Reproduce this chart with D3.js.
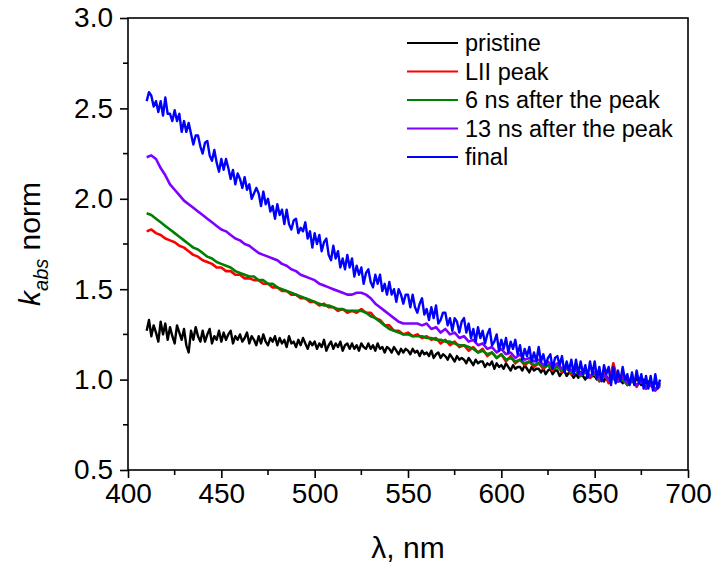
<!DOCTYPE html>
<html>
<head>
<meta charset="utf-8">
<script src="https://cdn.jsdelivr.net/npm/d3@7"></script>
<style>
  body { margin: 0; background: #fff; }
  text { font-family: "Liberation Sans", Arial, sans-serif; }
</style>
</head>
<body>
<script>
// coarse wavelength grid (nm) for the smoother curves
const wavelength = [
  410, 412.5, 415, 417.5, 420, 422.5, 425, 427.5, 430, 432.5,
  435, 437.5, 440, 442.5, 445, 447.5, 450, 452.5, 455, 457.5,
  460, 462.5, 465, 467.5, 470, 472.5, 475, 477.5, 480, 482.5,
  485, 487.5, 490, 492.5, 495, 497.5, 500, 502.5, 505, 507.5,
  510, 512.5, 515, 517.5, 520, 522.5, 525, 527.5, 530, 532.5,
  535, 537.5, 540, 542.5, 545, 547.5, 550, 552.5, 555, 557.5,
  560, 562.5, 565, 567.5, 570, 572.5, 575, 577.5, 580, 582.5,
  585, 587.5, 590, 592.5, 595, 597.5, 600, 602.5, 605, 607.5,
  610, 612.5, 615, 617.5, 620, 622.5, 625, 627.5, 630, 632.5,
  635, 637.5, 640, 642.5, 645, 647.5, 650, 652.5, 655, 657.5,
  660, 662.5, 665, 667.5, 670, 672.5, 675, 677.5, 680, 682.5,
  685
];

// fine wavelength grid (nm) for the noisy curves, 8 points per 10 nm
const wavelengthFine = [
  410, 411.25, 412.5, 413.75, 415, 416.25, 417.5, 418.75,
  420, 421.25, 422.5, 423.75, 425, 426.25, 427.5, 428.75,
  430, 431.25, 432.5, 433.75, 435, 436.25, 437.5, 438.75,
  440, 441.25, 442.5, 443.75, 445, 446.25, 447.5, 448.75,
  450, 451.25, 452.5, 453.75, 455, 456.25, 457.5, 458.75,
  460, 461.25, 462.5, 463.75, 465, 466.25, 467.5, 468.75,
  470, 471.25, 472.5, 473.75, 475, 476.25, 477.5, 478.75,
  480, 481.25, 482.5, 483.75, 485, 486.25, 487.5, 488.75,
  490, 491.25, 492.5, 493.75, 495, 496.25, 497.5, 498.75,
  500, 501.25, 502.5, 503.75, 505, 506.25, 507.5, 508.75,
  510, 511.25, 512.5, 513.75, 515, 516.25, 517.5, 518.75,
  520, 521.25, 522.5, 523.75, 525, 526.25, 527.5, 528.75,
  530, 531.25, 532.5, 533.75, 535, 536.25, 537.5, 538.75,
  540, 541.25, 542.5, 543.75, 545, 546.25, 547.5, 548.75,
  550, 551.25, 552.5, 553.75, 555, 556.25, 557.5, 558.75,
  560, 561.25, 562.5, 563.75, 565, 566.25, 567.5, 568.75,
  570, 571.25, 572.5, 573.75, 575, 576.25, 577.5, 578.75,
  580, 581.25, 582.5, 583.75, 585, 586.25, 587.5, 588.75,
  590, 591.25, 592.5, 593.75, 595, 596.25, 597.5, 598.75,
  600, 601.25, 602.5, 603.75, 605, 606.25, 607.5, 608.75,
  610, 611.25, 612.5, 613.75, 615, 616.25, 617.5, 618.75,
  620, 621.25, 622.5, 623.75, 625, 626.25, 627.5, 628.75,
  630, 631.25, 632.5, 633.75, 635, 636.25, 637.5, 638.75,
  640, 641.25, 642.5, 643.75, 645, 646.25, 647.5, 648.75,
  650, 651.25, 652.5, 653.75, 655, 656.25, 657.5, 658.75,
  660, 661.25, 662.5, 663.75, 665, 666.25, 667.5, 668.75,
  670, 671.25, 672.5, 673.75, 675, 676.25, 677.5, 678.75,
  680, 681.25, 682.5, 683.75, 685
];

// pristine, on the fine grid
const pristine = [
  1.27, 1.33, 1.24, 1.30, 1.26, 1.21, 1.32, 1.25,
  1.31, 1.22, 1.29, 1.24, 1.20, 1.30, 1.26, 1.22,
  1.28, 1.19, 1.15, 1.27, 1.22, 1.29, 1.24, 1.21,
  1.27, 1.21, 1.25, 1.28, 1.20, 1.24, 1.22, 1.27,
  1.21, 1.26, 1.22, 1.25, 1.27, 1.20, 1.24, 1.22,
  1.25, 1.21, 1.23, 1.26, 1.20, 1.24, 1.22, 1.19,
  1.24, 1.20, 1.25, 1.21, 1.19, 1.23, 1.21, 1.24,
  1.19, 1.23, 1.20, 1.22, 1.18, 1.24, 1.20, 1.21,
  1.18, 1.22, 1.19, 1.23, 1.20, 1.17, 1.21, 1.19,
  1.21, 1.17, 1.20, 1.18, 1.22, 1.16, 1.19, 1.21,
  1.17, 1.20, 1.18, 1.21, 1.16, 1.19, 1.20, 1.17,
  1.20, 1.17, 1.19, 1.16, 1.20, 1.18, 1.17, 1.20,
  1.17, 1.19, 1.16, 1.20, 1.17, 1.18, 1.15, 1.18,
  1.17, 1.15, 1.18, 1.16, 1.14, 1.17, 1.15, 1.17,
  1.16, 1.14, 1.17, 1.15, 1.16, 1.13, 1.16, 1.14,
  1.15, 1.13, 1.16, 1.12, 1.14, 1.15, 1.12, 1.14,
  1.13, 1.11, 1.14, 1.12, 1.10, 1.13, 1.11, 1.12,
  1.11, 1.09, 1.12, 1.10, 1.08, 1.11, 1.09, 1.10,
  1.10, 1.07, 1.09, 1.08, 1.10, 1.06, 1.09, 1.07,
  1.08, 1.06, 1.09, 1.07, 1.05, 1.08, 1.06, 1.07,
  1.07, 1.05, 1.08, 1.06, 1.04, 1.07, 1.05, 1.06,
  1.06, 1.04, 1.06, 1.03, 1.05, 1.06, 1.03, 1.05,
  1.05, 1.02, 1.04, 1.05, 1.02, 1.04, 1.03, 1.01,
  1.03, 1.01, 1.04, 1.02, 1.00, 1.03, 1.01, 1.02,
  1.02, 1.00, 1.03, 1.01, 0.99, 1.02, 1.00, 1.01,
  1.01, 0.99, 1.02, 1.00, 0.98, 1.01, 0.99, 1.00,
  1.00, 0.98, 1.01, 0.99, 0.97, 1.00, 0.98, 0.99,
  0.99, 0.97, 0.99, 0.96, 0.98
];

// LII peak, coarse grid
const liiPeak = [
  1.82, 1.83, 1.81, 1.80, 1.78, 1.77, 1.76, 1.74, 1.73, 1.71,
  1.69, 1.68, 1.66, 1.65, 1.64, 1.62, 1.62, 1.60, 1.60, 1.58,
  1.58, 1.56, 1.56, 1.55, 1.55, 1.53, 1.53, 1.51, 1.51, 1.49,
  1.49, 1.47, 1.47, 1.45, 1.45, 1.43, 1.43, 1.41, 1.42, 1.40,
  1.40, 1.38, 1.39, 1.37, 1.38, 1.37, 1.39, 1.37, 1.37, 1.34,
  1.33, 1.30, 1.30, 1.27, 1.27, 1.25, 1.26, 1.24, 1.25, 1.23,
  1.24, 1.22, 1.23, 1.20, 1.22, 1.19, 1.21, 1.18, 1.19, 1.16,
  1.18, 1.15, 1.17, 1.13, 1.15, 1.12, 1.14, 1.10, 1.13, 1.09,
  1.11, 1.08, 1.10, 1.07, 1.09, 1.06, 1.08, 1.05, 1.08, 1.04,
  1.07, 1.03, 1.06, 1.02, 1.05, 1.01, 1.04, 0.99, 1.04, 0.98,
  1.09, 0.99, 1.02, 0.97, 1.01, 0.96, 1.00, 0.95, 0.98, 0.94,
  0.97
];

// 6 ns after the peak, coarse grid
const after6ns = [
  1.92, 1.91, 1.89, 1.87, 1.85, 1.83, 1.81, 1.79, 1.77, 1.75,
  1.73, 1.72, 1.70, 1.68, 1.67, 1.65, 1.64, 1.63, 1.62, 1.60,
  1.59, 1.58, 1.57, 1.57, 1.55, 1.55, 1.53, 1.53, 1.51, 1.50,
  1.49, 1.48, 1.47, 1.46, 1.45, 1.44, 1.43, 1.42, 1.41, 1.41,
  1.40, 1.39, 1.39, 1.38, 1.38, 1.38, 1.38, 1.37, 1.35, 1.34,
  1.32, 1.30, 1.28, 1.27, 1.26, 1.25, 1.25, 1.24, 1.24, 1.24,
  1.23, 1.23, 1.22, 1.22, 1.21, 1.21, 1.20, 1.19, 1.19, 1.18,
  1.17, 1.15, 1.16, 1.14, 1.15, 1.12, 1.14, 1.11, 1.12, 1.10,
  1.11, 1.09, 1.10, 1.08, 1.09, 1.07, 1.08, 1.06, 1.07, 1.05,
  1.06, 1.04, 1.05, 1.02, 1.04, 1.02, 1.03, 1.00, 1.02, 1.00,
  1.01, 0.99, 1.00, 0.97, 0.99, 0.97, 0.99, 0.96, 0.98, 0.95,
  0.96
];

// 13 ns after the peak, coarse grid
const after13ns = [
  2.23, 2.24, 2.22, 2.17, 2.13, 2.08, 2.05, 2.02, 1.99, 1.97,
  1.95, 1.93, 1.91, 1.89, 1.87, 1.85, 1.83, 1.82, 1.80, 1.78,
  1.77, 1.75, 1.74, 1.72, 1.70, 1.69, 1.68, 1.67, 1.66, 1.64,
  1.63, 1.61, 1.60, 1.58, 1.57, 1.56, 1.55, 1.53, 1.52, 1.51,
  1.50, 1.49, 1.48, 1.47, 1.47, 1.48, 1.48, 1.47, 1.45, 1.42,
  1.40, 1.38, 1.36, 1.34, 1.32, 1.31, 1.31, 1.31, 1.31, 1.30,
  1.31, 1.28, 1.29, 1.26, 1.28, 1.25, 1.26, 1.23, 1.24, 1.21,
  1.22, 1.19, 1.20, 1.17, 1.18, 1.15, 1.17, 1.14, 1.15, 1.12,
  1.14, 1.11, 1.12, 1.10, 1.11, 1.08, 1.10, 1.07, 1.09, 1.06,
  1.07, 1.05, 1.06, 1.03, 1.05, 1.02, 1.04, 1.01, 1.03, 1.00,
  1.03, 0.99, 1.01, 0.98, 1.00, 0.97, 0.99, 0.95, 0.97, 0.94,
  0.97
];

// final, on the fine grid
const finalState = [
  2.54, 2.59, 2.57, 2.51, 2.54, 2.48, 2.54, 2.46,
  2.56, 2.47, 2.47, 2.43, 2.49, 2.43, 2.47, 2.37,
  2.43, 2.37, 2.42, 2.36, 2.30, 2.35, 2.35, 2.29,
  2.25, 2.31, 2.32, 2.24, 2.21, 2.27, 2.20, 2.15,
  2.22, 2.16, 2.22, 2.17, 2.11, 2.16, 2.08, 2.14,
  2.11, 2.06, 2.12, 2.05, 2.08, 2.00, 2.03, 2.06,
  2.03, 1.96, 2.04, 1.97, 2.00, 1.93, 1.96, 1.89,
  1.97, 1.91, 1.94, 1.86, 1.94, 1.86, 1.83, 1.88,
  1.89, 1.81, 1.84, 1.82, 1.87, 1.78, 1.82, 1.73,
  1.81, 1.75, 1.80, 1.71, 1.76, 1.78, 1.69, 1.66,
  1.74, 1.67, 1.71, 1.62, 1.67, 1.61, 1.69, 1.62,
  1.67, 1.57, 1.63, 1.58, 1.62, 1.53, 1.59, 1.61,
  1.54, 1.51, 1.58, 1.53, 1.58, 1.49, 1.53, 1.47,
  1.54, 1.47, 1.50, 1.43, 1.50, 1.47, 1.42, 1.47,
  1.47, 1.40, 1.47, 1.40, 1.37, 1.42, 1.45, 1.36,
  1.39, 1.33, 1.40, 1.34, 1.41, 1.31, 1.33, 1.37,
  1.37, 1.30, 1.34, 1.27, 1.34, 1.32, 1.26, 1.32,
  1.34, 1.26, 1.31, 1.23, 1.28, 1.21, 1.29, 1.23,
  1.27, 1.20, 1.25, 1.28, 1.19, 1.21, 1.25, 1.16,
  1.22, 1.17, 1.23, 1.15, 1.21, 1.17, 1.22, 1.14,
  1.19, 1.11, 1.17, 1.13, 1.18, 1.10, 1.15, 1.10,
  1.18, 1.10, 1.14, 1.08, 1.12, 1.14, 1.06, 1.12,
  1.13, 1.08, 1.13, 1.04, 1.10, 1.05, 1.11, 1.03,
  1.11, 1.03, 1.10, 1.03, 1.08, 1.01, 1.10, 1.03,
  1.10, 1.01, 1.07, 0.99, 1.08, 1.03, 1.07, 0.97,
  1.07, 0.98, 1.05, 0.99, 1.07, 1.00, 1.03, 0.97,
  1.04, 0.97, 1.05, 0.98, 1.03, 0.95, 1.02, 0.95,
  1.02, 0.94, 1.03, 0.95, 1.00
];

const seriesNames = ["pristine", "LII peak", "6 ns after the peak", "13 ns after the peak", "final"];
const seriesColors = ["#000000", "#ff0000", "#008000", "#8000ff", "#0000ff"];
const seriesValues = [pristine, liiPeak, after6ns, after13ns, finalState];
const seriesGrids = [wavelengthFine, wavelength, wavelength, wavelength, wavelengthFine];

const xTicks = [400, 450, 500, 550, 600, 650, 700];
const yTicks = [0.5, 1.0, 1.5, 2.0, 2.5, 3.0];
const xMinor = [425, 475, 525, 575, 625, 675];
const yMinor = [0.75, 1.25, 1.75, 2.25, 2.75];

// Set dimensions
const width = 717;
const height = 573;
const margin = { top: 18, right: 29, bottom: 103, left: 128 };

const x = d3.scaleLinear()
    .domain([400, 700])
    .range([margin.left, width - margin.right]);

const y = d3.scaleLinear()
    .domain([0.5, 3.0])
    .range([height - margin.bottom, margin.top]);

const svg = d3.select("body").append("svg")
    .attr("width", width)
    .attr("height", height);

// lines first, frame on top
const lineGroup = svg.append("g");
seriesValues.forEach((vals, i) => {
    const grid = seriesGrids[i];
    const line = d3.line()
        .x((d, j) => x(grid[j]))
        .y(d => y(d));
    lineGroup.append("path")
        .datum(vals)
        .attr("fill", "none")
        .attr("stroke", seriesColors[i])
        .attr("stroke-width", grid === wavelengthFine ? 2.4 : 2.6)
        .attr("stroke-linejoin", "round")
        .attr("d", line);
});

// frame
svg.append("rect")
    .attr("x", margin.left)
    .attr("y", margin.top)
    .attr("width", width - margin.right - margin.left)
    .attr("height", height - margin.bottom - margin.top)
    .attr("fill", "none")
    .attr("stroke", "#000")
    .attr("stroke-width", 1.6);

// minor ticks
svg.append("g")
    .attr("transform", `translate(0,${height - margin.bottom})`)
    .selectAll("line")
    .data(xMinor)
    .join("line")
    .attr("x1", d => x(d)).attr("x2", d => x(d))
    .attr("y1", 0).attr("y2", 5)
    .attr("stroke", "#000").attr("stroke-width", 1.6);

svg.append("g")
    .attr("transform", `translate(${margin.left},0)`)
    .selectAll("line")
    .data(yMinor)
    .join("line")
    .attr("y1", d => y(d)).attr("y2", d => y(d))
    .attr("x1", 0).attr("x2", -5)
    .attr("stroke", "#000").attr("stroke-width", 1.6);

// X-axis
const xAxis = svg.append("g")
    .attr("transform", `translate(0,${height - margin.bottom})`)
    .call(d3.axisBottom(x).tickValues(xTicks).tickSize(8).tickPadding(5).tickFormat(d3.format("d")));

// Y-axis
const yAxis = svg.append("g")
    .attr("transform", `translate(${margin.left},0)`)
    .call(d3.axisLeft(y).tickValues(yTicks).tickSize(8).tickPadding(7).tickFormat(d3.format(".1f")));

[xAxis, yAxis].forEach(g => {
    g.select(".domain").remove();
    g.selectAll(".tick line").attr("stroke", "#000").attr("stroke-width", 1.6);
    g.selectAll(".tick text")
        .attr("fill", "#000")
        .style("font-family", "'Liberation Sans', Arial, sans-serif")
        .style("font-size", "28px");
});

// legend
const legend = svg.append("g");
seriesNames.forEach((name, i) => {
    const ly = 43 + i * 28.5;
    legend.append("line")
        .attr("x1", 407).attr("x2", 458)
        .attr("y1", ly).attr("y2", ly)
        .attr("stroke", seriesColors[i])
        .attr("stroke-width", 2.2);
    legend.append("text")
        .attr("x", 465)
        .attr("y", ly)
        .attr("dy", "0.35em")
        .style("font-size", "23.5px")
        .text(name);
});

// axis titles
svg.append("text")
    .attr("x", (margin.left + width - margin.right) / 2)
    .attr("y", 558)
    .attr("text-anchor", "middle")
    .style("font-size", "30px")
    .text("λ, nm");

const yTitle = svg.append("text")
    .attr("transform", `translate(40,${(margin.top + height - margin.bottom) / 2}) rotate(-90)`)
    .attr("text-anchor", "middle")
    .style("font-size", "30px");
yTitle.append("tspan").style("font-style", "italic").text("k");
yTitle.append("tspan").style("font-style", "italic").style("font-size", "20px").attr("dy", 8).text("abs");
yTitle.append("tspan").attr("dy", -8).text(" norm");
</script>
</body>
</html>
